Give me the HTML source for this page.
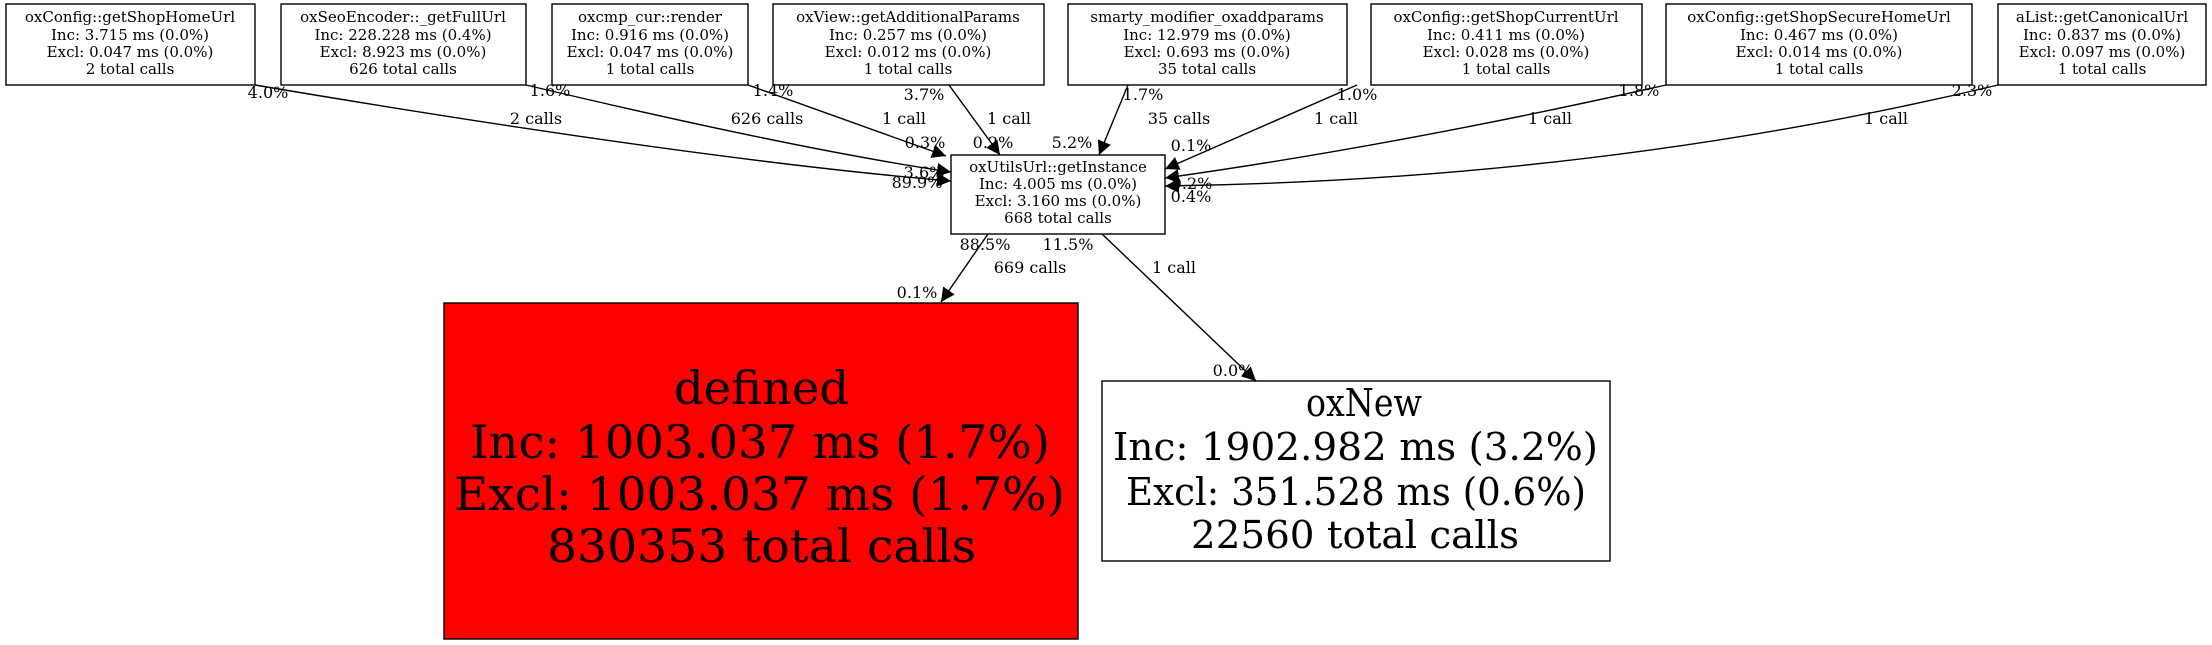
<!DOCTYPE html>
<html><head><meta charset="utf-8"><style>
html,body{margin:0;padding:0;background:#fff;}
svg{display:block;}
text{font-family:"DejaVu Serif","Liberation Serif",serif;fill:#000;}
.n{font-size:15px;text-anchor:middle;}
.e{font-size:16px;text-anchor:middle;}
</style></head><body>
<svg width="2212" height="645" viewBox="0 0 2212 645" xmlns="http://www.w3.org/2000/svg">
<defs><marker id="a" viewBox="0 0 10 10" refX="10" refY="5" markerWidth="14" markerHeight="14" markerUnits="userSpaceOnUse" orient="auto"><path d="M0,0L10,5L0,10z" fill="#000"/></marker></defs>
<g fill="#fff" stroke="#000" stroke-width="1.4">
<rect x="6" y="4" width="249" height="81"/>
<rect x="281" y="4" width="245" height="81"/>
<rect x="552" y="4" width="196" height="81"/>
<rect x="773" y="4" width="271" height="81"/>
<rect x="1068" y="4" width="279" height="81"/>
<rect x="1371" y="4" width="271" height="81"/>
<rect x="1666" y="4" width="306" height="81"/>
<rect x="1998" y="4" width="208" height="81"/>
<rect x="951" y="155" width="214" height="79"/>
<rect x="444" y="303" width="634" height="336" fill="#ff0000"/>
<rect x="1102" y="381" width="508" height="180"/>
</g>
<g class="n">
<text x="130" y="22">oxConfig::getShopHomeUrl</text><text x="130" y="40">Inc: 3.715 ms (0.0%)</text><text x="130" y="57">Excl: 0.047 ms (0.0%)</text><text x="130" y="74">2 total calls</text>
<text x="403" y="22">oxSeoEncoder::_getFullUrl</text><text x="403" y="40">Inc: 228.228 ms (0.4%)</text><text x="403" y="57">Excl: 8.923 ms (0.0%)</text><text x="403" y="74">626 total calls</text>
<text x="650" y="22">oxcmp_cur::render</text><text x="650" y="40">Inc: 0.916 ms (0.0%)</text><text x="650" y="57">Excl: 0.047 ms (0.0%)</text><text x="650" y="74">1 total calls</text>
<text x="908" y="22">oxView::getAdditionalParams</text><text x="908" y="40">Inc: 0.257 ms (0.0%)</text><text x="908" y="57">Excl: 0.012 ms (0.0%)</text><text x="908" y="74">1 total calls</text>
<text x="1207" y="22">smarty_modifier_oxaddparams</text><text x="1207" y="40">Inc: 12.979 ms (0.0%)</text><text x="1207" y="57">Excl: 0.693 ms (0.0%)</text><text x="1207" y="74">35 total calls</text>
<text x="1506" y="22">oxConfig::getShopCurrentUrl</text><text x="1506" y="40">Inc: 0.411 ms (0.0%)</text><text x="1506" y="57">Excl: 0.028 ms (0.0%)</text><text x="1506" y="74">1 total calls</text>
<text x="1819" y="22">oxConfig::getShopSecureHomeUrl</text><text x="1819" y="40">Inc: 0.467 ms (0.0%)</text><text x="1819" y="57">Excl: 0.014 ms (0.0%)</text><text x="1819" y="74">1 total calls</text>
<text x="2102" y="22">aList::getCanonicalUrl</text><text x="2102" y="40">Inc: 0.837 ms (0.0%)</text><text x="2102" y="57">Excl: 0.097 ms (0.0%)</text><text x="2102" y="74">1 total calls</text>
<text x="1058" y="172">oxUtilsUrl::getInstance</text><text x="1058" y="189">Inc: 4.005 ms (0.0%)</text><text x="1058" y="206">Excl: 3.160 ms (0.0%)</text><text x="1058" y="223">668 total calls</text>
</g>
<g style="font-size:46px" text-anchor="start">
<text x="674" y="404" textLength="175" lengthAdjust="spacingAndGlyphs">defined</text>
<text x="470" y="458" textLength="580" lengthAdjust="spacingAndGlyphs">Inc: 1003.037 ms (1.7%)</text>
<text x="454" y="510" textLength="611" lengthAdjust="spacingAndGlyphs">Excl: 1003.037 ms (1.7%)</text>
<text x="547" y="562" textLength="429" lengthAdjust="spacingAndGlyphs">830353 total calls</text>
</g>
<g style="font-size:38px" text-anchor="start">
<text x="1306" y="416" textLength="116" lengthAdjust="spacingAndGlyphs">oxNew</text>
<text x="1113" y="460" textLength="485" lengthAdjust="spacingAndGlyphs">Inc: 1902.982 ms (3.2%)</text>
<text x="1126" y="505" textLength="460" lengthAdjust="spacingAndGlyphs">Excl: 351.528 ms (0.6%)</text>
<text x="1191" y="548" textLength="328" lengthAdjust="spacingAndGlyphs">22560 total calls</text>
</g>
<g fill="none" stroke="#000" stroke-width="1.4" marker-end="url(#a)">
<path d="M255,85 Q700,160 951,181"/>
<path d="M526,85 Q800,150 951,172"/>
<path d="M748,85 L946,156"/>
<path d="M949,85 L1000,155"/>
<path d="M1128,85 L1099,155"/>
<path d="M1357,85 L1165,169"/>
<path d="M1666,85 Q1400,145 1165,178"/>
<path d="M1998,85 Q1600,180 1165,186"/>
<path d="M988,234 L941,302"/>
<path d="M1102,234 L1256,381"/>
</g>
<g class="e">
<text x="268" y="98">4.0%</text><text x="536" y="124">2 calls</text><text x="917" y="188">89.9%</text>
<text x="550" y="96">1.6%</text><text x="767" y="124">626 calls</text><text x="924" y="178">3.6%</text>
<text x="773" y="96">1.4%</text><text x="904" y="124">1 call</text><text x="925" y="148">0.3%</text>
<text x="924" y="100">3.7%</text><text x="1009" y="124">1 call</text><text x="993" y="148">0.2%</text>
<text x="1143" y="100">1.7%</text><text x="1179" y="124">35 calls</text><text x="1072" y="148">5.2%</text>
<text x="1357" y="100">1.0%</text><text x="1336" y="124">1 call</text><text x="1191" y="151">0.1%</text>
<text x="1639" y="96">1.8%</text><text x="1550" y="124">1 call</text><text x="1192" y="189">0.2%</text>
<text x="1972" y="96">2.3%</text><text x="1886" y="124">1 call</text><text x="1191" y="202">0.4%</text>
<text x="985" y="250">88.5%</text><text x="1030" y="273">669 calls</text><text x="917" y="298">0.1%</text>
<text x="1068" y="250">11.5%</text><text x="1174" y="273">1 call</text><text x="1233" y="376">0.0%</text>
</g>
</svg>
</body></html>
